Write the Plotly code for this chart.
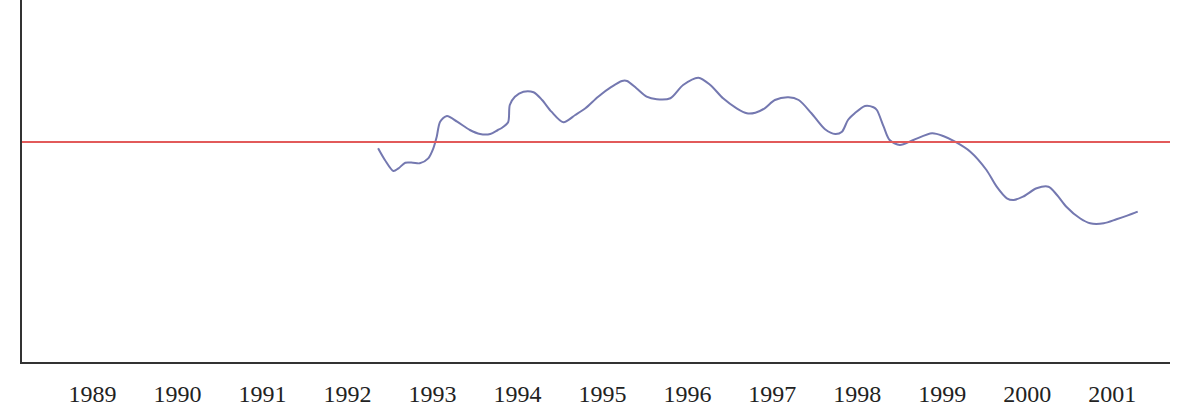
import plotly.graph_objects as go

years = [1992.36, 1992.44, 1992.54, 1992.60, 1992.68, 1992.77, 1992.85, 1992.95, 1993.01, 1993.05,
         1993.09, 1993.17, 1993.29, 1993.44, 1993.56, 1993.68, 1993.77, 1993.81, 1993.89, 1993.91,
         1993.97, 1994.07, 1994.19, 1994.29, 1994.40, 1994.54, 1994.68, 1994.80, 1994.95, 1995.11,
         1995.23, 1995.29, 1995.40, 1995.52, 1995.64, 1995.80, 1995.95, 1996.13, 1996.27, 1996.42,
         1996.58, 1996.70, 1996.80, 1996.91, 1997.03, 1997.19, 1997.31, 1997.46, 1997.62, 1997.74,
         1997.82, 1997.89, 1997.97, 1998.09, 1998.19, 1998.23, 1998.31, 1998.38, 1998.50, 1998.66,
         1998.88, 1999.01, 1999.15, 1999.33, 1999.52, 1999.64, 1999.76, 1999.84, 1999.95, 2000.11,
         2000.25, 2000.35, 2000.46, 2000.62, 2000.74, 2000.90, 2001.05, 2001.27, 2001.30]
values = [98.43, 95.50, 92.75, 93.42, 94.82, 94.82, 94.68, 95.92, 98.43, 101.33,
          105.08, 106.50, 105.08, 103.00, 102.00, 102.00, 103.00, 103.43, 104.93, 109.25,
          111.33, 112.58, 112.43, 110.50, 107.58, 104.93, 106.75, 108.43, 111.33, 113.83,
          115.25, 115.25, 113.43, 111.33, 110.68, 110.93, 114.25, 116.08, 114.25, 110.93,
          108.43, 107.18, 107.33, 108.43, 110.50, 111.18, 110.50, 107.18, 103.18, 102.00,
          102.58, 105.50, 107.18, 109.00, 108.68, 108.00, 103.83, 100.50, 99.25, 100.50,
          102.18, 101.50, 100.08, 97.58, 93.00, 88.83, 85.93, 85.50, 86.33, 88.43,
          88.83, 86.75, 83.83, 80.93, 79.68, 79.68, 80.68, 82.33, 82.60]
baseline = 100
tick_years = list(range(1989, 2002))
tick_labels = [str(y) for y in tick_years]

fig = go.Figure()
fig.add_trace(go.Scatter(
    x=years, y=values, mode="lines",
    line=dict(color="#7478b0", width=2, shape="spline", smoothing=0.8),
    showlegend=False, hoverinfo="skip"))
fig.add_hline(y=baseline, line=dict(color="#e25a5a", width=2))

fig.update_layout(
    template="none",
    width=1178, height=411,
    margin=dict(l=22, r=8, t=0, b=49),
    paper_bgcolor="white", plot_bgcolor="white",
    showlegend=False,
    xaxis=dict(
        range=[1988.169, 2001.680],
        tickvals=tick_years, ticktext=tick_labels,
        showgrid=False, zeroline=False,
        showline=True, linecolor="#333333", linewidth=2,
        ticks="", ticklabelstandoff=9,
        tickfont=dict(family="Liberation Serif, Times New Roman, serif", size=24, color="#222222"),
        automargin=False,
    ),
    yaxis=dict(
        range=[45, 135.5],
        showgrid=False, zeroline=False,
        showline=True, linecolor="#333333", linewidth=2,
        showticklabels=False, ticks="",
        automargin=False,
    ),
)

fig.write_html("out.html")
